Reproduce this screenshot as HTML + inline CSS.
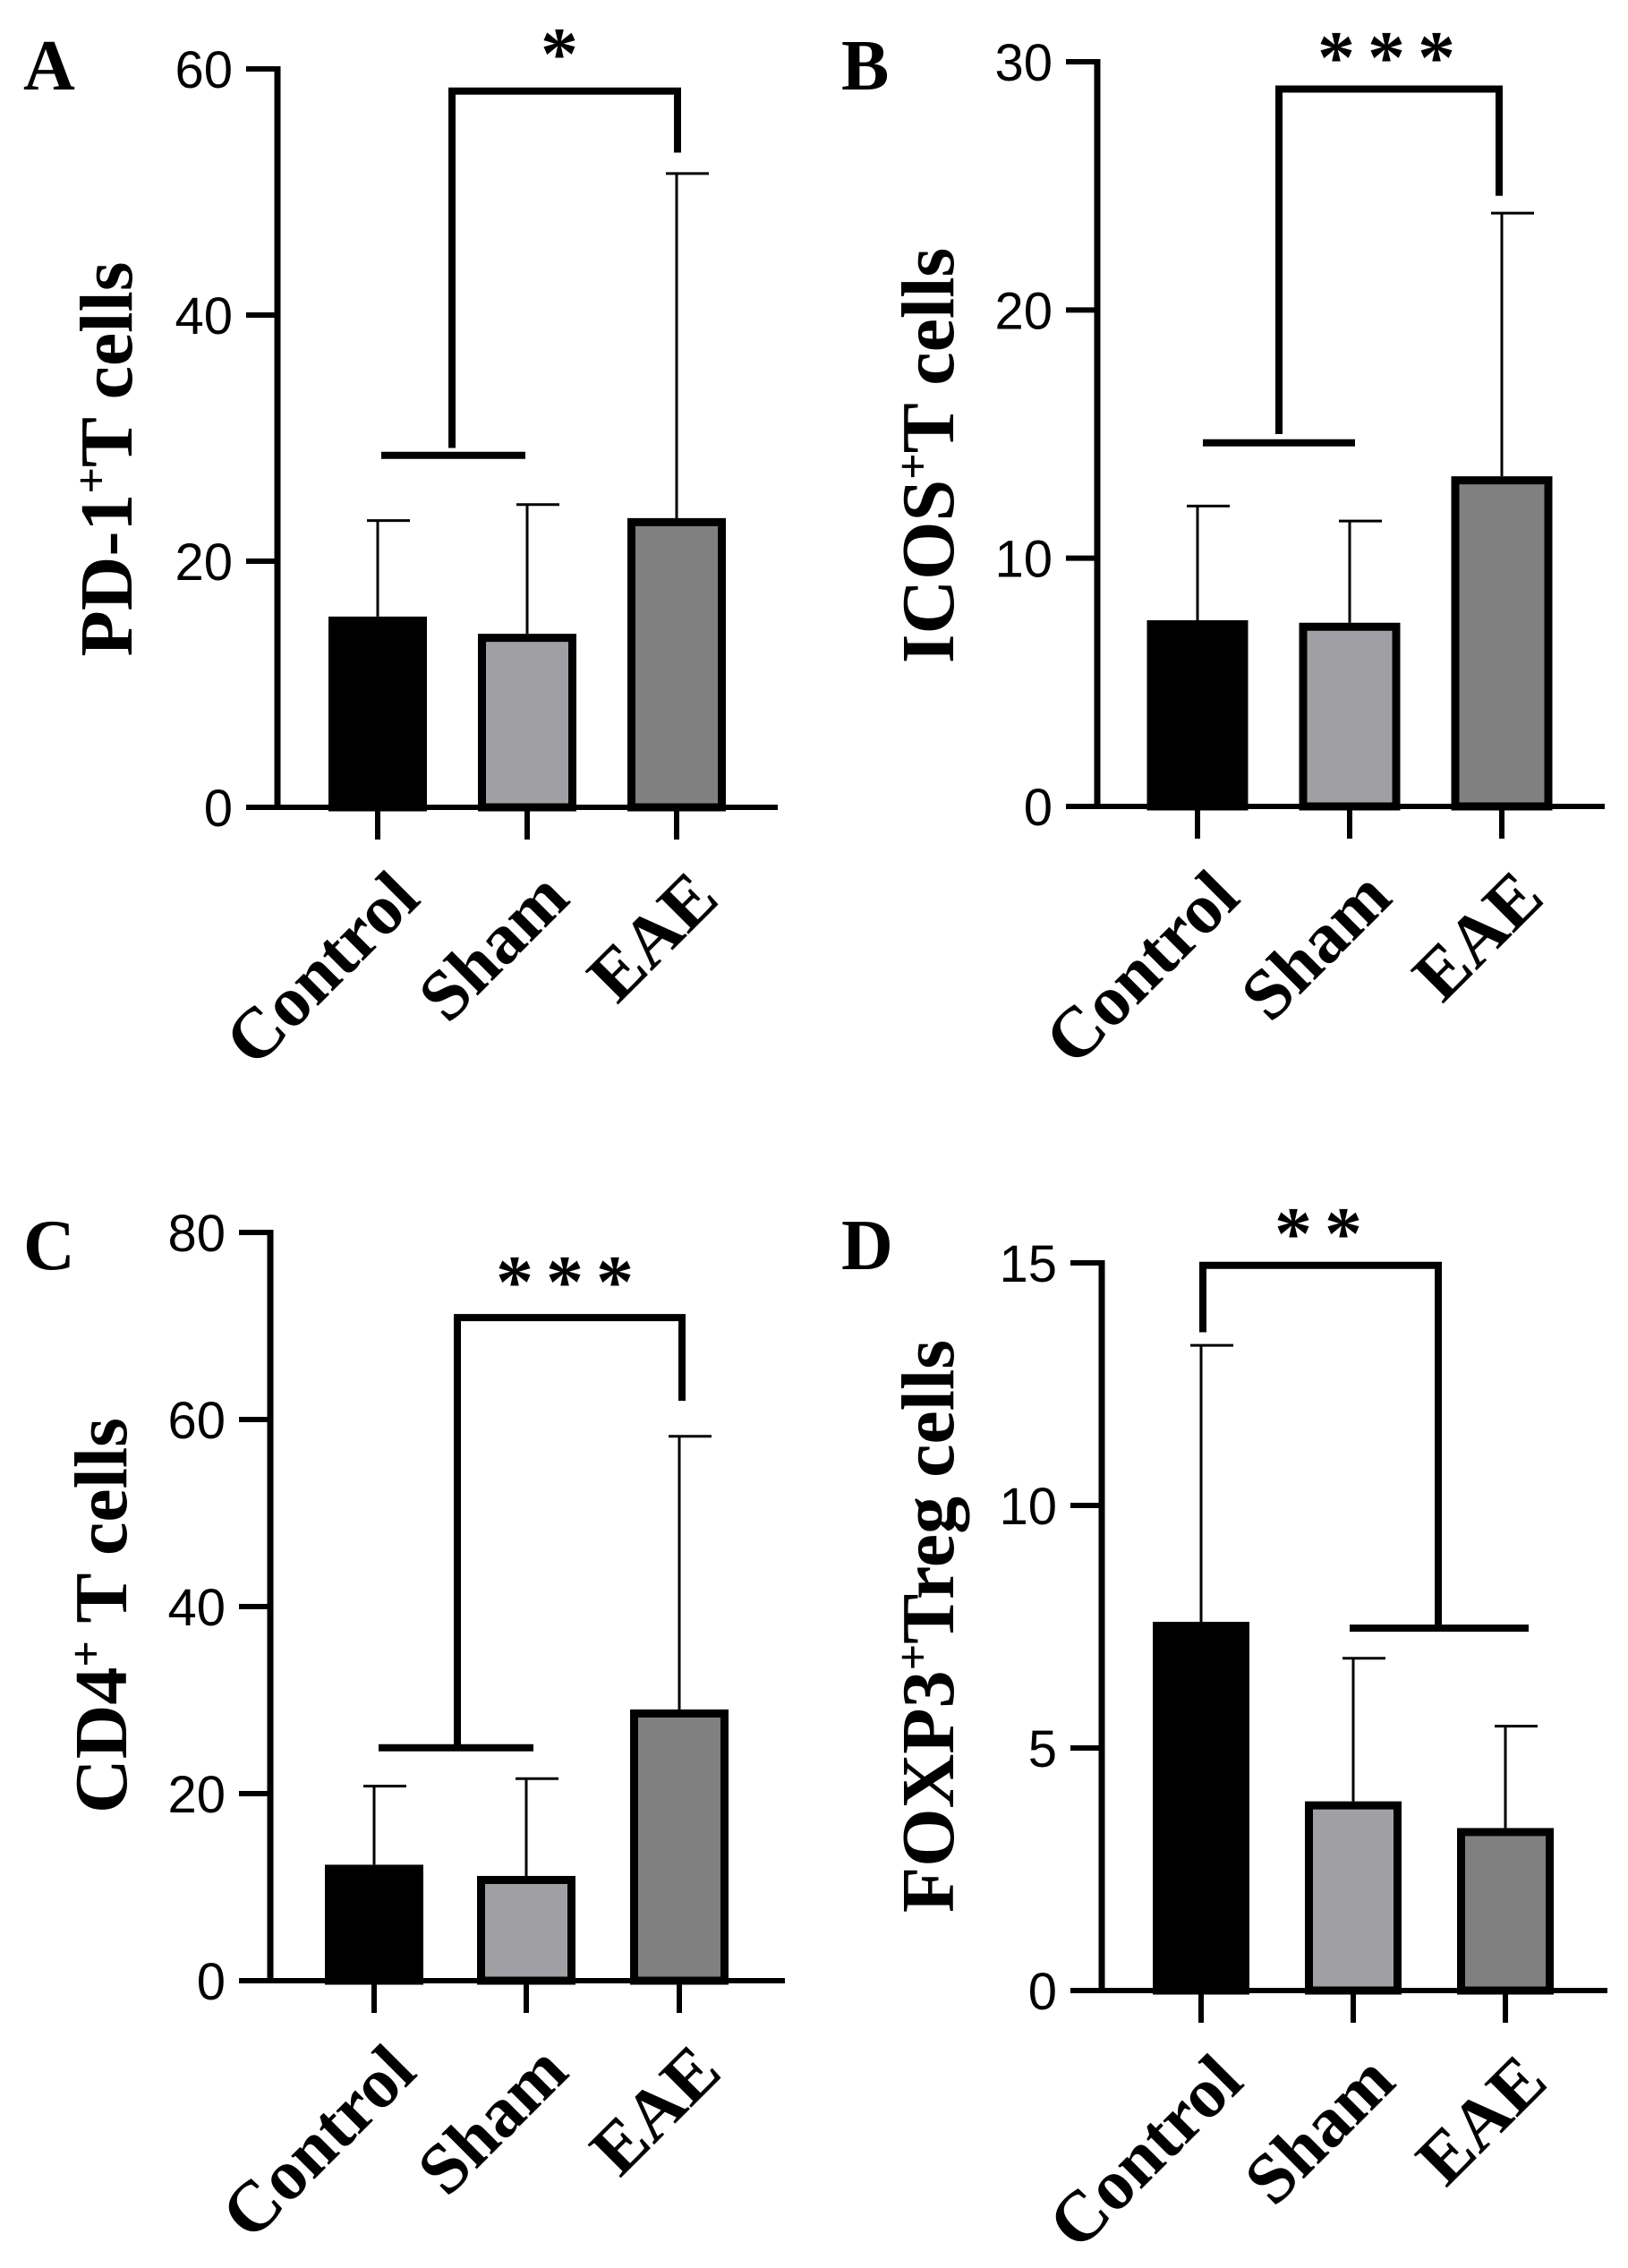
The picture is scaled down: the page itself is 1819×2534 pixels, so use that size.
<!DOCTYPE html>
<html><head><meta charset="utf-8"><style>
html,body{margin:0;padding:0;background:#fff}
svg{display:block}
text{font-family:"Liberation Serif",serif}
.tick{font-family:"Liberation Sans",sans-serif;font-size:58px;fill:#000}
</style></head><body>
<svg id="fig" width="1819" height="2534" viewBox="0 0 1819 2534" xmlns="http://www.w3.org/2000/svg"></svg>
<script>
const categories = ["Control","Sham","EAE"];
const meansA = [15.5, 14.1, 23.5];
const errsA = [23.3, 24.6, 51.5];
const ticksA = [0,20,40,60];
const meansB = [7.5, 7.4, 13.3];
const errsB = [12.1, 11.5, 23.9];
const ticksB = [0,10,20,30];
const meansC = [12.4, 11.2, 29.0];
const errsC = [20.8, 21.6, 58.2];
const ticksC = [0,20,40,60,80];
const meansD = [7.6, 3.9, 3.35];
const errsD = [13.3, 6.85, 5.45];
const ticksD = [0,5,10,15];
const bracketA = {top:58.2, leftEnd:29.2, rightEnd:53.2, groupLine:28.6, stars:"*"};
const bracketB = {top:28.9, leftEnd:15.0, rightEnd:24.6, groupLine:14.65, stars:"***"};
const bracketC = {top:70.9, leftEnd:25.1, rightEnd:62.0, groupLine:24.9, stars:"***"};
const bracketD = {top:14.95, leftEnd:13.57, rightEnd:7.5, groupLine:7.47, stars:"**"};

const NS="http://www.w3.org/2000/svg";
const svg=document.getElementById('fig');
function mk(tag,attrs,parent){const e=document.createElementNS(NS,tag);for(const k in attrs)e.setAttribute(k,attrs[k]);(parent||svg).appendChild(e);return e;}
const fills=["#000000","#a0a0a4","#808080"];

function panel(cfg){
  const g=mk('g',{});
  
  
  const yMax=cfg.ticks[cfg.ticks.length-1];
  const y=v=>cfg.y0-(v/yMax)*(cfg.y0-cfg.yTop);
  const x0=cfg.axisX;
  const L=mk('text',{x:cfg.letterX,y:cfg.letterY,'font-size':80,'font-weight':'bold'},g);
  L.textContent=cfg.letter;
  
  
  cfg.ticks.forEach(t=>{
    const tl=mk('line',{x1:x0-35,x2:x0,y1:y(t),y2:y(t),stroke:'#000','stroke-width':6},g);
    
    
    const tx=mk('text',{x:x0-50,y:y(t)+21,'text-anchor':'end',class:'tick'},g);
    tx.textContent=t;
    
    
  });
  cfg.means.forEach((m,i)=>{
    const cx=cfg.cats[i], w=cfg.barW;
    const eb=mk('line',{x1:cx,x2:cx,y1:y(m),y2:y(cfg.errs[i]),stroke:'#000','stroke-width':3},g);
    
    
    const ec=mk('line',{x1:cx-12,x2:cx+36,y1:y(cfg.errs[i]),y2:y(cfg.errs[i]),stroke:'#000','stroke-width':3},g);
    
    
    const r=mk('rect',{x:cx-w/2+4.5,y:y(m)+4.5,width:w-9,height:Math.max(0,cfg.y0-y(m)-4.5),fill:fills[i],stroke:'#000','stroke-width':9},g);
    
    
    const xt=mk('line',{x1:cx,x2:cx,y1:cfg.y0,y2:cfg.y0+36,stroke:'#000','stroke-width':6},g);
    
    
    const lx=cx+50, ly=cfg.y0+105;
    const lab=mk('text',{x:lx,y:ly,'text-anchor':'end','font-size':80,'font-weight':'bold',transform:`rotate(-45 ${lx} ${ly})`},g);
    lab.textContent=categories[i];
    
    
  });
  const ya=mk('line',{x1:x0,x2:x0,y1:cfg.yTop-3,y2:cfg.y0+3,stroke:'#000','stroke-width':7},g);
  
  
  const xa=mk('line',{x1:x0-35,x2:cfg.axisRight,y1:cfg.y0,y2:cfg.y0,stroke:'#000','stroke-width':6},g);
  
  
  const tt=mk('text',{x:cfg.titleX,y:cfg.titleY,'text-anchor':'middle','font-size':84,'font-weight':'bold',transform:`rotate(-90 ${cfg.titleX} ${cfg.titleY})`},g);
  tt.innerHTML=cfg.title;
  
  
  const b=cfg.br;
  const p=mk('path',{d:`M${cfg.bLeftX},${y(b.leftEnd)} V${y(b.top)} H${cfg.bRightX} V${y(b.rightEnd)}`,fill:'none',stroke:'#000','stroke-width':8},g);
  
  
  const gl=mk('line',{x1:cfg.glX1,x2:cfg.glX2,y1:y(b.groupLine),y2:y(b.groupLine),stroke:'#000','stroke-width':8},g);
  
  
  const st=mk('text',{x:cfg.starX,y:cfg.starY,'text-anchor':'middle','font-size':84,'font-weight':'bold','font-family':'Liberation Sans, sans-serif','letter-spacing':'14'},g);
  st.textContent=b.stars;
  
  
}

const sup=s=>`<tspan baseline-shift="super" font-size="52">${s}</tspan>`;
panel({letter:'A',letterX:26,letterY:100,axisX:310,yTop:77,y0:902,axisRight:869,ticks:ticksA,means:meansA,errs:errsA,cats:[422,589,756],barW:110,
  title:'PD-1'+sup('+')+'T cells',titleX:147,titleY:513,br:bracketA,bLeftX:505,bRightX:757,glX1:426,glX2:587,starX:632,starY:88});
panel({letter:'B',letterX:940,letterY:100,axisX:1226,yTop:69,y0:901,axisRight:1793,ticks:ticksB,means:meansB,errs:errsB,cats:[1338,1508,1678],barW:113,
  title:'ICOS'+sup('+')+'T cells',titleX:1065,titleY:509,br:bracketB,bLeftX:1429,bRightX:1675,glX1:1344,glX2:1514,starX:1556,starY:92});
panel({letter:'C',letterX:26,letterY:1418,axisX:302,yTop:1377,y0:2213,axisRight:877,ticks:ticksC,means:meansC,errs:errsC,cats:[418,588,759],barW:110,
  title:'CD4'+sup('+')+' T cells',titleX:141,titleY:1805,br:bracketC,bLeftX:511,bRightX:762,glX1:423,glX2:596,starX:638,starY:1460});
panel({letter:'D',letterX:940,letterY:1418,axisX:1231,yTop:1411,y0:2224,axisRight:1796,ticks:ticksD,means:meansD,errs:errsD,cats:[1342,1512,1682],barW:108,
  title:'FOXP3'+sup('+')+'Treg cells',titleX:1065,titleY:1817,br:bracketD,bLeftX:1344,bRightX:1607,glX1:1508,glX2:1708,starX:1480,starY:1406});
</script>
</body></html>
